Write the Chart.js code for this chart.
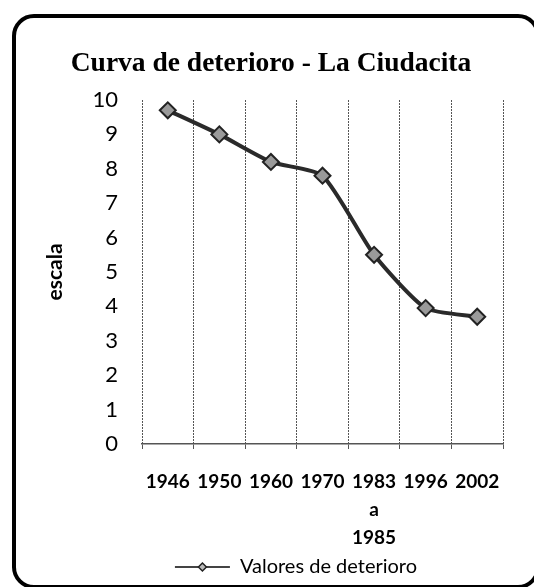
<!DOCTYPE html>
<html>
<head>
<meta charset="utf-8">
<script src="https://cdn.jsdelivr.net/npm/chart.js@4"></script>
<style>
  html, body { margin: 0; padding: 0; background: #fff; }
  #wrap { position: relative; width: 534px; height: 587px; overflow: hidden; }
  #frame { position: absolute; left: 12px; top: 14px; width: 528px; height: 575px;
           border: 4px solid #000; border-radius: 22px; box-sizing: border-box; }
  canvas { position: absolute; left: 0; top: 0; }
</style>
</head>
<body>
<div id="wrap">
  <div id="frame"></div>
  <canvas id="c" width="534" height="587"></canvas>
</div>
<script>
const categories = ["1946", "1950", "1960", "1970", ["1983", "a", "1985"], "1996", "2002"];
const deterioro = [9.7, 9.0, 8.2, 7.8, 5.5, 3.95, 3.7];
const yTicks = [0, 1, 2, 3, 4, 5, 6, 7, 8, 9, 10];
const seriesName = "Valores de deterioro";
const chartTitle = "Curva de deterioro - La Ciudacita";
const yTitle = "escala";

const legendTweak = {
  id: 'legendTweak',
  afterLayout(chart) {
    const lg = chart.legend;
    if (lg) { lg.left += 25; lg.right += 25; }
  },
  afterDraw(chart) {
    const lg = chart.legend;
    if (!lg || !lg.legendHitBoxes || !lg.legendHitBoxes.length) return;
    const hb = lg.legendHitBoxes[0];
    const boxW = lg.options.labels.boxWidth;
    const cx = hb.left + boxW / 2;
    const cy = hb.top + hb.height / 2;
    const ctx = chart.ctx;
    ctx.save();
    ctx.beginPath();
    const r = 4;
    ctx.moveTo(cx, cy - r); ctx.lineTo(cx + r, cy); ctx.lineTo(cx, cy + r); ctx.lineTo(cx - r, cy); ctx.closePath();
    ctx.fillStyle = '#bbb'; ctx.fill();
    ctx.lineWidth = 1.5; ctx.strokeStyle = '#222'; ctx.stroke();
    ctx.restore();
  }
};

new Chart(document.getElementById('c'), {
  type: 'line',
  data: {
    labels: categories,
    datasets: [{
      label: seriesName,
      data: deterioro,
      borderColor: '#2a2a2a',
      backgroundColor: '#999',
      borderWidth: 4,
      tension: 0.2,
      pointStyle: 'rectRot',
      pointRadius: 8,
      pointBackgroundColor: '#9a9a9a',
      pointBorderColor: '#222',
      pointBorderWidth: 2
    }]
  },
  options: {
    responsive: false,
    animation: false,
    layout: { padding: { left: 39, right: 31, top: 28, bottom: 0 } },
    plugins: {
      title: {
        display: true,
        text: chartTitle,
        color: '#000',
        font: { family: 'Liberation Serif', size: 27.5, weight: 'bold', lineHeight: 1.2 },
        padding: { top: 19, bottom: 20 }
      },
      legend: {
        position: 'bottom',
        labels: {
          color: '#000',
          boxWidth: 55,
          boxHeight: 2,
          padding: 7,
          font: { family: 'Lato', size: 20 },
          generateLabels(chart) {
            return [{ text: seriesName, fillStyle: '#444', strokeStyle: '#444', lineWidth: 0, datasetIndex: 0 }];
          }
        }
      },
      tooltip: { enabled: false }
    },
    scales: {
      x: {
        offset: true,
        afterFit(scale) { scale.height = 106; },
        grid: {
          offset: true,
          display: true,
          drawOnChartArea: true,
          color: (ctx) => ctx.index === categories.length ? '#222' : '#555',
          lineWidth: 1,
          tickLength: 5
        },
        border: { display: true, color: '#555', width: 1.5, dash: [2, 1] },
        ticks: {
          color: '#000',
          padding: 19,
          maxRotation: 0,
          autoSkip: false,
          font: { family: 'Lato', size: 19, weight: 'bold', lineHeight: 1.47 }
        }
      },
      y: {
        min: 0,
        max: 10,
        afterBuildTicks(scale) { scale.ticks = yTicks.map(v => ({ value: v })); },
        afterFit(scale) { scale.width = 142 - 39; },
        grid: { display: false },
        border: { display: false },
        ticks: {
          color: '#000',
          padding: 16,
          font: { family: 'Lato', size: 22 }
        },
        title: {
          display: true,
          text: yTitle,
          color: '#000',
          font: { family: 'Lato', size: 21, weight: 'bold' },
          padding: { top: 4, bottom: 4 }
        }
      }
    }
  },
  plugins: [legendTweak]
});
</script>
</body>
</html>
